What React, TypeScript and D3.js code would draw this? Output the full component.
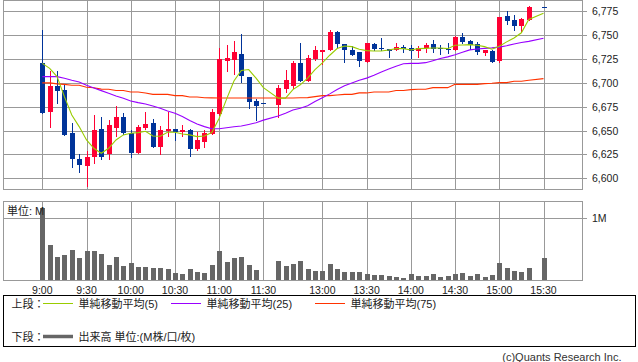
import React from 'react';
import * as d3 from 'd3';

const W = 638;
const H = 362;

// 5-minute slots (morning 9:00-11:30, one empty slot over lunch, afternoon 12:30-15:30)
const slotLabels: string[] = (() => {
  const out: string[] = [];
  const fmt = (m: number) => `${Math.floor(m / 60)}:${String(m % 60).padStart(2, '0')}`;
  for (let m = 540; m <= 690; m += 5) out.push(fmt(m));
  out.push('12:25');
  for (let m = 750; m <= 930; m += 5) out.push(fmt(m));
  return out;
})();

// candle times (no trades in the 12:25 gap and 15:25 closing auction slot)
const times: string[] = slotLabels.filter((t) => t !== '12:25' && t !== '15:25');

const opens = [
  6721, 6669, 6697, 6693, 6647, 6620, 6613, 6622, 6652, 6625, 6653, 6664, 6647, 6627, 6653, 6658, 6633, 6650, 6652, 6649, 6651, 6631, 6638, 6646, 6667, 6723, 6724, 6730, 6706, 6681, 6679,
  6677, 6694, 6697, 6721, 6702, 6725, 6732, 6735, 6753, 6741, 6734, 6732, 6722, 6741, 6737, 6736, 6735, 6738, 6737, 6733, 6737, 6741, 6737, 6736, 6735, 6748, 6744, 6741, 6731, 6733, 6723, 6770, 6766, 6760, 6766,
  6780,
];
const highs = [
  6755, 6712, 6712, 6698, 6658, 6626, 6629, 6666, 6664, 6661, 6676, 6668, 6651, 6656, 6669, 6662, 6655, 6670, 6652, 6656, 6652, 6649, 6651, 6673, 6737, 6740, 6744, 6751, 6706, 6683, 6679,
  6698, 6714, 6723, 6742, 6729, 6739, 6735, 6755, 6754, 6741, 6739, 6732, 6742, 6742, 6747, 6736, 6742, 6740, 6740, 6739, 6742, 6745, 6740, 6742, 6749, 6752, 6745, 6743, 6735, 6734, 6769, 6775, 6771, 6768, 6781,
  6780,
];
const lows = [
  6668, 6654, 6679, 6645, 6612, 6607, 6592, 6616, 6620, 6620, 6644, 6646, 6622, 6627, 6652, 6633, 6626, 6644, 6640, 6644, 6623, 6630, 6633, 6646, 6666, 6712, 6709, 6701, 6674, 6661, 6679,
  6664, 6690, 6695, 6702, 6702, 6724, 6720, 6734, 6738, 6722, 6729, 6718, 6722, 6735, 6735, 6727, 6735, 6732, 6726, 6727, 6732, 6732, 6730, 6731, 6735, 6742, 6736, 6730, 6729, 6722, 6722, 6762, 6755, 6753, 6766,
  6780,
];
const closes = [
  6668, 6697, 6692, 6645, 6620, 6614, 6622, 6651, 6622, 6656, 6664, 6647, 6627, 6654, 6657, 6633, 6651, 6652, 6649, 6651, 6631, 6640, 6647, 6670, 6725, 6726, 6732, 6707, 6680, 6676, 6679,
  6695, 6703, 6721, 6702, 6726, 6735, 6735, 6753, 6741, 6734, 6729, 6723, 6742, 6736, 6736, 6733, 6738, 6736, 6733, 6737, 6740, 6736, 6736, 6734, 6748, 6743, 6740, 6732, 6734, 6722, 6769, 6765, 6760, 6767, 6780,
  6780,
];
// volume, millions
const volumes = [
  1.16, 0.57, 0.376, 0.409, 0.489, 0.36, 0.473, 0.473, 0.425, 0.247, 0.376, 0.231, 0.28, 0.215, 0.215, 0.199, 0.199, 0.183, 0.118, 0.102, 0.183, 0.134, 0.118, 0.247, 0.473, 0.296, 0.36, 0.376, 0.247, 0.167, 0.01,
  0.312, 0.231, 0.263, 0.312, 0.183, 0.15, 0.15, 0.263, 0.183, 0.134, 0.134, 0.134, 0.102, 0.086, 0.086, 0.07, 0.054, 0.038, 0.102, 0.07, 0.07, 0.102, 0.054, 0.07, 0.102, 0.118, 0.07, 0.102, 0.054, 0.086, 0.28, 0.199, 0.15, 0.134, 0.199,
  0.36,
];
const ma5 = [
  6720.5, 6715.3, 6706.6, 6685.6, 6666.4, 6654.2, 6640.2, 6631.5, 6626.3, 6631.5, 6640.2, 6645.5, 6647.2, 6647.9, 6649.3, 6644.4, 6644.1, 6648.3, 6648.3, 6646.5, 6645.5, 6643.7, 6644.4, 6648, 6663, 6683, 6702, 6713, 6714, 6705, 6695,
  6684, 6684, 6693, 6698, 6705, 6714, 6721, 6729, 6736, 6738.7, 6738, 6735.2, 6733.8, 6733.5, 6733.5, 6734.5, 6735.9, 6735.9, 6734.5, 6735.9, 6736.2, 6736.6, 6736.6, 6735.9, 6739.4, 6739.7, 6740.1, 6739.4, 6738, 6735.3, 6738.5, 6743, 6747, 6752.5, 6766.5,
  6773,
];
const ma25 = [
  6706.6, 6706.6, 6706.6, 6704.8, 6702.7, 6701, 6697.5, 6694.7, 6691.9, 6689.1, 6686.3, 6683.9, 6681.1, 6679.3, 6677.9, 6675.8, 6673.4, 6670.6, 6668.2, 6664.7, 6660.5, 6657, 6654.2, 6652, 6652, 6653, 6654, 6654.8, 6656.5, 6658.3, 6661,
  6665.3, 6668.1, 6671.6, 6673.5, 6676, 6680.5, 6684.5, 6688.5, 6693, 6697, 6700, 6702.8, 6705, 6708, 6711.5, 6714.5, 6717.5, 6720, 6720.5, 6720.5, 6721.2, 6723.3, 6725.5, 6727.3, 6729.6, 6732.2, 6734.6, 6735.5, 6736.2, 6736.7, 6737.5, 6739, 6740.8, 6742.3, 6743.5,
  6746.8,
];
const ma75 = [
  6700, 6700, 6699, 6698.5, 6697.5, 6697.5, 6695.5, 6695, 6693.5, 6693.3, 6692, 6692, 6690.5, 6690.5, 6689.5, 6688, 6688, 6688, 6686.7, 6686.7, 6685.3, 6685.3, 6684.5, 6684.3, 6684.2, 6684.2, 6684.2, 6684.2, 6684.2, 6684.2, 6684.2,
  6684.2, 6684.2, 6684.2, 6684.4, 6684.6, 6685.6, 6686.7, 6686.7, 6687.3, 6688, 6688, 6689.5, 6689.5, 6690.5, 6690.5, 6690.5, 6692, 6692, 6693, 6693.3, 6693.3, 6695, 6695, 6695, 6698.5, 6698.5, 6698.5, 6698.5, 6699.2, 6699.6, 6700.3, 6700.3, 6701.7, 6701.7, 6702.7,
  6704.5,
];

const timeTicks = ['9:00', '9:30', '10:00', '10:30', '11:00', '11:30', '13:00', '13:30', '14:00', '14:30', '15:00', '15:30'];
const priceTicks = [6600, 6625, 6650, 6675, 6700, 6725, 6750, 6775];
const volumeTicks = [1];

const legendItems = [
  { label: '単純移動平均(5)', color: '#99cc00' },
  { label: '単純移動平均(25)', color: '#9900ff' },
  { label: '単純移動平均(75)', color: '#ff3300' },
];

const UP = '#ff0033';
const DOWN = '#003399';
const GRID = '#999999';
const TEXT = '#222222';
const FONT = "'Liberation Sans', 'Noto Sans CJK JP', sans-serif";

export default function App() {
  // layout
  const pL = 3, pR = 582, pT = 0, pB = 189;
  const vT = 201, vB = 280;

  const x = d3.scalePoint<string>().domain(slotLabels).range([42.3, 543.5]);
  const y = d3.scaleLinear().domain([6600, 6775]).range([178.33, 11.33]);
  const yv = d3.scaleLinear().domain([0, 1]).range([280.33, 218.33]);
  const fmt = d3.format(',');

  const cx = (t: string) => Math.round(x(t) as number);
  const px = (v: number) => Math.round(v) + 0.5;

  const lineGen = (vals: number[]) =>
    d3
      .line<number>()
      .x((_, i) => x(times[i]) as number)
      .y((v) => y(v))(vals) as string;

  const maSeries = [
    { vals: ma75, color: '#ff3300' },
    { vals: ma25, color: '#9900ff' },
    { vals: ma5, color: '#99cc00' },
  ];

  return (
    <svg
      width={W}
      height={H}
      viewBox={`0 0 ${W} ${H}`}
      style={{ position: 'absolute', left: 0, top: 0, background: '#fff' }}
      fontFamily={FONT}
    >
      <rect x={0} y={0} width={W} height={H} fill="#fff" />
      {/* ===== price panel ===== */}
      <g shapeRendering="crispEdges">
        {priceTicks.map((p) => (
          <line key={'hg' + p} x1={pL} x2={587} y1={px(y(p))} y2={px(y(p))} stroke={GRID} strokeWidth={1} />
        ))}
        {timeTicks.map((t) => (
          <line key={'vg' + t} x1={cx(t) + 0.5} x2={cx(t) + 0.5} y1={pT} y2={pB + 1} stroke={GRID} strokeWidth={1} />
        ))}
        <rect x={pL + 0.5} y={pT + 0.5} width={pR - pL} height={pB - pT} fill="none" stroke={GRID} strokeWidth={1} />
      </g>
      {priceTicks.map((p) => (
        <text key={'pl' + p} x={592} y={y(p)} dominantBaseline="central" fontSize={10.5} fill={TEXT}>
          {fmt(p)}
        </text>
      ))}

      {/* candles */}
      <g shapeRendering="crispEdges">
        {times.map((t, i) => {
          const o = opens[i], c = closes[i], h = highs[i], l = lows[i];
          const col = c > o ? UP : DOWN;
          const top = y(Math.max(o, c));
          const bot = y(Math.min(o, c));
          const xc = cx(t);
          return (
            <g key={'c' + t}>
              <line x1={xc + 0.5} x2={xc + 0.5} y1={Math.round(y(h))} y2={Math.round(y(l)) + 1} stroke={col} strokeWidth={1} />
              <rect x={xc - 2} y={Math.round(top)} width={5} height={Math.max(1, Math.round(bot) - Math.round(top))} fill={col} />
            </g>
          );
        })}
      </g>

      {/* moving averages */}
      {maSeries.map((s, k) => (
        <path key={'ma' + k} d={lineGen(s.vals)} fill="none" stroke={s.color} strokeWidth={1.1} />
      ))}

      {/* ===== volume panel ===== */}
      <g shapeRendering="crispEdges">
        {volumeTicks.map((v) => (
          <line key={'vh' + v} x1={pL} x2={587} y1={px(yv(v))} y2={px(yv(v))} stroke={GRID} strokeWidth={1} />
        ))}
        {timeTicks.map((t) => (
          <line key={'vvg' + t} x1={cx(t) + 0.5} x2={cx(t) + 0.5} y1={vT} y2={vB + 1} stroke={GRID} strokeWidth={1} />
        ))}
        {times.map((t, i) => {
          const top = Math.round(yv(volumes[i]));
          return (
            <rect key={'v' + t} x={cx(t) - 2} y={top} width={5} height={Math.max(1, Math.round(yv(0)) - top)} fill="#666666" />
          );
        })}
        <rect x={pL + 0.5} y={vT + 0.5} width={pR - pL} height={vB - vT} fill="none" stroke={GRID} strokeWidth={1} />
      </g>
      <text x={7} y={210.5} dominantBaseline="central" fontSize={11} fill={TEXT}>
        単位: M
      </text>
      {volumeTicks.map((v) => (
        <text key={'vl' + v} x={592} y={yv(v)} dominantBaseline="central" fontSize={10.5} fill={TEXT}>
          {v}M
        </text>
      ))}

      {/* time axis labels */}
      {timeTicks.map((t) => (
        <text key={'tl' + t} x={x(t) as number} y={289.5} dominantBaseline="central" textAnchor="middle" fontSize={10.5} fill={TEXT}>
          {t}
        </text>
      ))}

      {/* ===== legend ===== */}
      <rect x={3.5} y={295.5} width={632} height={51} fill="none" stroke="#000" strokeWidth={1} shapeRendering="crispEdges" />
      <text x={11.5} y={303.5} dominantBaseline="central" fontSize={11} fill={TEXT}>
        上段：
      </text>
      {legendItems.map((it, k) => {
        const lx = [43, 171, 315][k];
        const tx = [78.5, 206.5, 350.5][k];
        return (
          <g key={'lg' + k}>
            <line x1={lx} x2={lx + 30} y1={303.5} y2={303.5} stroke={it.color} strokeWidth={1} shapeRendering="crispEdges" />
            <text x={tx} y={303.5} dominantBaseline="central" fontSize={11} fill={TEXT}>
              {it.label}
            </text>
          </g>
        );
      })}
      <text x={11.5} y={336.5} dominantBaseline="central" fontSize={11} fill={TEXT}>
        下段：
      </text>
      <line x1={43} x2={73} y1={336.5} y2={336.5} stroke="#666666" strokeWidth={3.5} />
      <text x={78.5} y={336.5} dominantBaseline="central" fontSize={11} fill={TEXT}>
        出来高 単位:(M株/口/枚)
      </text>

      <text x={621.5} y={357} dominantBaseline="central" textAnchor="end" fontSize={11} fill="#333">
        (c)Quants Research Inc.
      </text>
    </svg>
  );
}
